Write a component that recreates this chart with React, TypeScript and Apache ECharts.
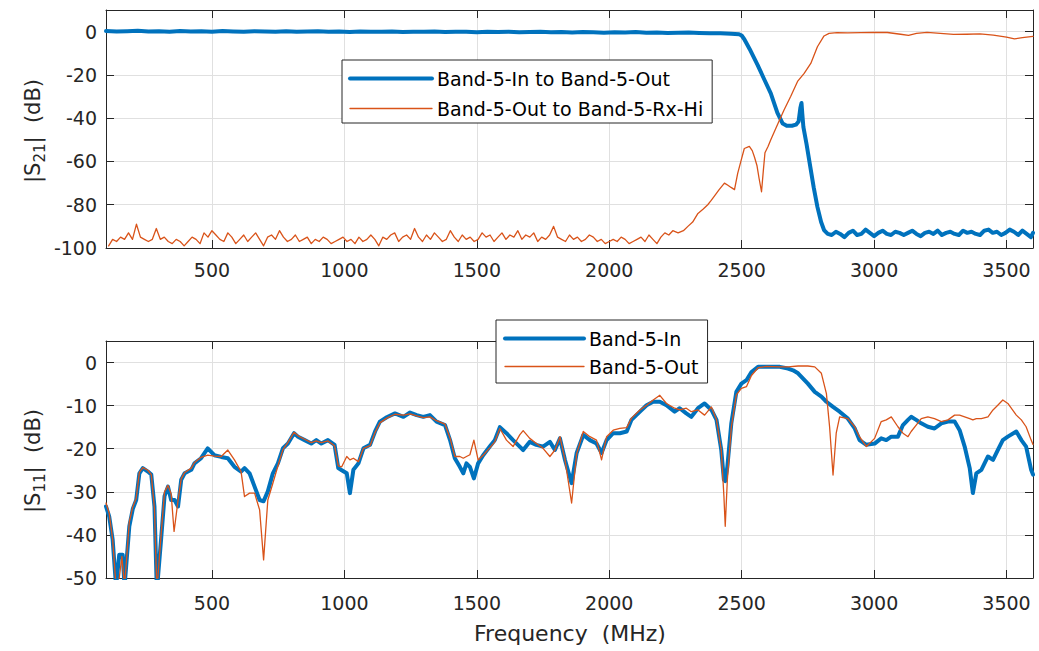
import React, { useEffect, useRef } from 'react';
import * as echarts from 'echarts';

const BLUE = '#0072BD';
const ORANGE = '#D95319';
const INK = '#262626';
const GRIDC = '#e0e0e0';
const FONT = '"DejaVu Sans", sans-serif';

// ---------------- axis ranges / labels ----------------
const FREQ_MIN = 100;
const FREQ_MAX = 3600;
const s21Range = [-100, 10];
const s11Range = [-50, 5];
const legendTop = ['Band-5-In to Band-5-Out', 'Band-5-Out to Band-5-Rx-Hi'];
const legendBottom = ['Band-5-In', 'Band-5-Out'];
const xTitle = 'Frequency  (MHz)';

// ---------------- |S21| Band-5-In to Band-5-Out (blue) ----------------
// pass-band samples: start 100 MHz, step 40 MHz
const s21InPassStart = 100;
const s21InPassStep = 40;
const s21InPass = [
  0.3, 0.1, 0.2, 0.4, 0.1, 0.2, -0.1, 0.3, 0.1, 0.2, 0, 0.3, 0.1, -0.1, 0.2, 0.1, 0, 0.2, -0.1, 0.1,
  0.2, 0, 0.1, -0.2, 0.1, 0, -0.1, 0.1, -0.2, 0, -0.1, 0.1, -0.2, -0.1, 0, -0.3, -0.1, -0.2, 0, -0.3,
  -0.2, -0.1, -0.3, -0.2, -0.4, -0.2, -0.3, -0.5, -0.3, -0.4, -0.2, -0.5, -0.4, -0.6, -0.5, -0.4, -0.6, -0.7, -0.8, -1.0,
];
const s21InEdge: [number, number][] = [
  [2490, -1.2], [2500, -1.8], [2510, -3.5], [2530, -8], [2560, -15.4], [2585, -22], [2610, -28.5],
  [2635, -37.5], [2655, -42.5], [2670, -43.5], [2690, -43.5], [2705, -43], [2715, -41.5], [2722, -35],
  [2726, -33], [2729, -38], [2733, -44], [2745, -52], [2759, -62.4], [2772, -72], [2786, -81],
  [2800, -88], [2811, -91.7], [2825, -93.5],
];
// stop-band samples: start 2840 MHz, step 16 MHz
const s21InStopStart = 2840;
const s21InStopStep = 16;
const s21InStop = [
  -94, -92.5, -93.5, -95, -93, -92, -94, -93.5, -91.5, -93, -94.5, -93, -92, -93.5, -94, -92.5,
  -93, -94, -93, -92, -93.5, -94.5, -93, -92.5, -93.5, -92, -94, -93, -92.5, -93.5, -94, -92,
  -93, -92.5, -93.5, -94, -92, -91.5, -93, -92.5, -94, -93, -91.5, -92.5, -94, -92, -93.5, -95,
];
const s21InEnd: [number, number] = [3600, -93];

// ---------------- |S21| Band-5-Out to Band-5-Rx-Hi (orange) ----------------
// noise floor: start 110 MHz, step 15 MHz
const s21OutFloorStart = 110;
const s21OutFloorStep = 15;
const s21OutFloor = [
  -99, -96, -97, -95, -96, -93, -96, -89, -95, -96, -97, -96, -91, -96, -95, -97, -98, -96, -97, -99, -97, -95, -96, -98, -93, -95, -92,
  -94, -96, -97, -93, -95, -98, -96, -94, -97, -95, -93, -96, -99, -95, -94, -96, -92, -95, -97, -96, -94, -97, -96, -95, -98, -96, -97, -95, -96, -98, -97, -96, -95,
  -97, -96, -98, -95, -97, -96, -94, -96, -99, -95, -96, -94, -93, -97, -95, -94, -96, -91, -95, -97, -94, -96, -93, -95, -97, -96, -92, -95, -97, -94, -96, -95, -97,
  -96, -93, -95, -94, -97, -95, -93, -96, -94, -95, -92, -96, -94, -95, -93, -97, -95, -96, -94, -90, -95, -96, -97, -94, -96, -95, -97, -96, -94, -95, -97, -96, -98,
  -97, -96, -97, -95, -96, -98, -97, -96, -95, -97, -94, -96, -98, -95, -93, -94, -92,
];
const s21OutRise: [number, number][] = [
  [2260, -93], [2280, -92], [2297, -90], [2315, -88], [2335, -84], [2355, -82], [2372, -80], [2385, -78],
  [2397, -76], [2415, -73], [2435, -70], [2448, -71], [2460, -72], [2473, -73], [2485, -65.5], [2497, -60],
  [2510, -54], [2529, -53], [2540, -55], [2548, -57.8], [2558, -62], [2566, -68], [2575, -74], [2582, -64],
  [2588, -56], [2600, -53], [2610, -50], [2635, -43], [2660, -36.2], [2685, -30], [2711, -23], [2736, -19.3],
  [2761, -14.7], [2786, -7], [2811, -2], [2830, -0.8], [2860, -0.5], [2900, -0.6], [2950, -0.5], [3000, -0.3],
  [3050, -0.4], [3100, -1.2], [3130, -1.7], [3160, -0.8], [3200, -0.3], [3250, -0.8], [3300, -1.3], [3350, -1.2],
  [3400, -1.0], [3450, -1.6], [3500, -2.5], [3530, -3.3], [3560, -2.8], [3600, -2.2],
];

// ---------------- |S11| Band-5-In (blue) ----------------
const s11In: [number, number][] = [
  [100, -33.4], [112, -35.7], [125, -41], [138, -52], [150, -44.6], [163, -44.6], [170, -52], [188, -38],
  [201, -34], [214, -31.9], [226, -25.7], [239, -24.5], [258, -25.3], [271, -26], [283, -33.4], [292, -53],
  [308, -41], [321, -31], [334, -28.8], [346, -31.9], [359, -31.9], [372, -33.4], [384, -27.2], [397, -25.7],
  [422, -24.9], [434, -23.4], [459, -22.2], [484, -19.9], [509, -21.5], [535, -21.9], [560, -22.2], [585, -24.2],
  [610, -25.3], [623, -24.5], [642, -25.7], [661, -28.8], [680, -31.9], [695, -32.2], [711, -29.9], [730, -25.7],
  [749, -23.4], [768, -19.9], [787, -18.8], [810, -16.4], [825, -17.2], [850, -18], [875, -18.8], [894, -18],
  [913, -18.8], [938, -18], [963, -19.1], [977, -24.5], [990, -25], [1009, -25.7], [1021, -30.3], [1034, -24.9],
  [1053, -23.4], [1072, -19.9], [1097, -19.1], [1116, -16], [1134, -13.7], [1160, -12.7], [1191, -11.8], [1223, -12.6],
  [1248, -11.6], [1273, -12.2], [1298, -12.6], [1323, -12.2], [1348, -13.7], [1380, -14.5], [1399, -18], [1417, -22.2],
  [1436, -24.2], [1449, -25.7], [1461, -23.4], [1474, -24.2], [1489, -26.9], [1505, -23.4], [1524, -21.5], [1549, -19.5],
  [1568, -18], [1587, -15], [1612, -16.4], [1637, -18], [1662, -19.5], [1675, -20.3], [1700, -18.4], [1725, -19.1],
  [1750, -19.5], [1776, -18.4], [1795, -20.3], [1814, -17.6], [1833, -22.6], [1858, -28], [1877, -21], [1902, -16.8],
  [1927, -18], [1952, -18.8], [1971, -21], [1990, -18], [2015, -16.4], [2040, -16.4], [2066, -16], [2084, -13.3],
  [2116, -11.4], [2141, -9.9], [2166, -9.1], [2191, -9.1], [2216, -9.9], [2247, -11.4], [2266, -10.6], [2291, -11.8],
  [2310, -12.6], [2335, -10.6], [2360, -9.5], [2386, -11], [2405, -13.3], [2423, -20.3], [2433, -27.2], [2438, -27.5],
  [2446, -24.2], [2461, -14.1], [2480, -6.8], [2499, -4.9], [2518, -4.1], [2537, -2.2], [2562, -1], [2593, -1],
  [2644, -1], [2675, -1.4], [2694, -1.8], [2713, -2.5], [2750, -4.9], [2776, -6.8], [2801, -7.9], [2820, -9.1],
  [2845, -10.3], [2870, -11.4], [2901, -13], [2927, -15.3], [2945, -18], [2971, -19.1], [3002, -18.8], [3027, -17.6],
  [3046, -18], [3065, -17.2], [3090, -17.2], [3109, -14.5], [3128, -13.3], [3140, -12.6], [3159, -13.3], [3178, -14.1],
  [3203, -14.9], [3228, -15.3], [3254, -14.1], [3279, -13.7], [3304, -13.7], [3323, -15.7], [3342, -19.5], [3361, -24.5],
  [3373, -30.3], [3386, -25.7], [3405, -24.9], [3430, -21.8], [3449, -22.6], [3467, -20.3], [3486, -18], [3505, -17.2],
  [3537, -16], [3556, -18], [3574, -19.5], [3593, -24.9], [3600, -26],
];

// ---------------- |S11| Band-5-Out (orange) ----------------
const s11Out: [number, number][] = [
  [100, -32.6], [112, -35], [125, -41], [138, -52], [150, -50], [160, -45], [170, -52], [188, -37],
  [201, -33.5], [214, -31.5], [226, -25.5], [239, -24.4], [258, -25], [271, -26], [283, -34], [292, -53],
  [308, -40], [321, -30], [334, -28.5], [346, -30.5], [357, -39.2], [372, -32], [384, -27], [397, -25.5],
  [422, -24.5], [434, -23.2], [459, -22], [484, -21.5], [509, -21.7], [535, -21.8], [560, -20.3], [585, -22.6],
  [610, -25.3], [623, -31.1], [642, -30.3], [661, -30.3], [680, -34.2], [695, -45.8], [711, -31.9], [730, -28],
  [749, -24], [768, -20.2], [787, -18.5], [810, -16.2], [825, -17], [850, -17.8], [875, -18.6], [894, -18.2],
  [913, -18.6], [938, -18.2], [963, -19.3], [977, -24], [990, -24.2], [1009, -21.8], [1021, -22.6], [1034, -22.2],
  [1053, -23], [1072, -19.9], [1097, -19.3], [1116, -16.2], [1134, -14], [1160, -12.9], [1191, -12], [1223, -12.2],
  [1248, -11.9], [1273, -12.4], [1298, -12.8], [1323, -12.6], [1348, -13.5], [1380, -14.3], [1399, -17.5], [1417, -21.8],
  [1436, -21.8], [1449, -22.2], [1461, -21.8], [1474, -21.4], [1489, -18], [1505, -22.6], [1524, -21.5], [1549, -19.8],
  [1568, -18.4], [1587, -15.3], [1612, -18], [1637, -19.5], [1662, -16.8], [1675, -15.8], [1700, -17.6], [1725, -18.8],
  [1750, -19.9], [1776, -21.8], [1795, -20.3], [1814, -17.2], [1833, -22.6], [1858, -32.6], [1877, -21.2], [1902, -16],
  [1927, -17.2], [1952, -18], [1971, -22.6], [1990, -17.2], [2015, -15.7], [2040, -15.3], [2066, -15.1], [2084, -12.9],
  [2116, -11], [2141, -9.9], [2166, -8.7], [2191, -7.6], [2216, -9.5], [2247, -10.6], [2266, -11], [2291, -10.6],
  [2310, -11.4], [2335, -11], [2360, -12.2], [2386, -10.3], [2405, -13.3], [2423, -20.3], [2433, -31], [2438, -38],
  [2446, -27.2], [2461, -15], [2480, -7.5], [2499, -6], [2518, -5.6], [2537, -3], [2562, -1.2], [2593, -0.9],
  [2644, -1], [2675, -1], [2713, -0.8], [2750, -0.8], [2776, -1], [2801, -2.5], [2820, -7.2], [2832, -14.9],
  [2845, -26.1], [2857, -16.4], [2870, -12.6], [2901, -13], [2927, -14.9], [2945, -17.2], [2971, -19.5], [3002, -17.6],
  [3027, -13.7], [3046, -13.3], [3065, -12.6], [3090, -14.9], [3109, -16.4], [3128, -17.2], [3140, -16], [3159, -14.5],
  [3178, -13], [3203, -12.6], [3228, -13], [3254, -13.7], [3279, -13.3], [3304, -12.2], [3323, -12.2], [3342, -12.6],
  [3361, -13], [3373, -13.3], [3386, -13], [3405, -13], [3430, -12.6], [3449, -11], [3467, -9.9], [3486, -8.7],
  [3505, -9.5], [3537, -12.2], [3556, -13.3], [3574, -14.9], [3593, -18], [3600, -19],
];

// ---------------- helpers ----------------
function sampled(start: number, step: number, vals: number[]): [number, number][] {
  return vals.map((v, i) => [start + i * step, v]);
}

function measure(text: string, size: number): number {
  const ctx = document.createElement('canvas').getContext('2d');
  if (!ctx) return text.length * size * 0.6;
  ctx.font = `${size}px "DejaVu Sans"`;
  return ctx.measureText(text).width;
}

function yTitle(cx: number, cy: number, sub: string) {
  const F = 21;
  const FS = 15;
  const parts: [string, number, number][] = [
    ['|S', F, 0],
    [sub, FS, 7],
    ['|  (dB)', F, 0],
  ];
  const widths = parts.map((p) => measure(p[0], p[1]));
  const total = widths.reduce((a, b) => a + b, 0);
  let cur = -total / 2;
  const children = parts.map((p, i) => {
    const el = {
      type: 'text',
      x: cur,
      y: p[2],
      style: {
        text: p[0],
        fontSize: p[1],
        fontFamily: FONT,
        fill: INK,
        textAlign: 'left',
        textVerticalAlign: 'middle',
        align: 'left',
        verticalAlign: 'middle',
      },
    };
    cur += widths[i];
    return el;
  });
  return { type: 'group', x: cx, y: cy, rotation: Math.PI / 2, children };
}

function xAxes(gridIndex: number, margin: number) {
  const common = {
    type: 'value',
    gridIndex,
    min: FREQ_MIN,
    max: FREQ_MAX,
    splitNumber: 7,
    axisLine: { show: true, onZero: false, lineStyle: { color: INK, width: 1 } },
    axisTick: { show: true, inside: true, length: 8, lineStyle: { color: INK, width: 1 } },
  };
  return [
    {
      ...common,
      position: 'bottom',
      axisLabel: {
        show: true,
        showMinLabel: false,
        showMaxLabel: false,
        margin,
        fontSize: 19,
        fontFamily: FONT,
        color: INK,
        formatter: (v: number) => String(v),
      },
      splitLine: { show: true, lineStyle: { color: GRIDC, width: 1 } },
    },
    {
      ...common,
      position: 'top',
      axisLabel: { show: false },
      splitLine: { show: false },
    },
  ];
}

function yAxes(gridIndex: number, range: number[], interval: number) {
  const common = {
    type: 'value',
    gridIndex,
    min: range[0],
    max: range[1],
    interval,
    axisLine: { show: true, onZero: false, lineStyle: { color: INK, width: 1 } },
    axisTick: { show: true, inside: true, length: 8, lineStyle: { color: INK, width: 1 } },
  };
  return [
    {
      ...common,
      position: 'left',
      axisLabel: {
        show: true,
        showMaxLabel: false,
        margin: 9,
        fontSize: 19,
        fontFamily: FONT,
        color: INK,
        formatter: (v: number) => String(v),
      },
      splitLine: { show: true, lineStyle: { color: GRIDC, width: 1 } },
    },
    {
      ...common,
      position: 'right',
      axisLabel: { show: false },
      splitLine: { show: false },
    },
  ];
}

function lineSeries(name: string, data: [number, number][], color: string, width: number, xi: number, yi: number) {
  return {
    type: 'line',
    name,
    data,
    xAxisIndex: xi,
    yAxisIndex: yi,
    showSymbol: false,
    symbol: 'none',
    clip: true,
    silent: true,
    color,
    lineStyle: { color, width, cap: 'round', join: 'round' },
  };
}

function legend(
  left: number,
  top: number,
  names: string[],
  widths: number[],
  itemWidth: number,
  padding: number[],
  itemGap: number,
) {
  return {
    show: true,
    orient: 'vertical',
    left,
    top,
    data: names.map((name, i) => ({ name, lineStyle: { width: widths[i] }, itemStyle: { opacity: 0 } })),
    itemWidth,
    itemHeight: 14,
    itemGap,
    padding,
    selectedMode: false,
    itemStyle: { opacity: 0 },
    backgroundColor: '#ffffff',
    borderColor: INK,
    borderWidth: 1,
    borderRadius: 0,
    textStyle: { fontSize: 19, fontFamily: FONT, color: '#000000' },
  };
}

export default function App() {
  const ref = useRef<HTMLDivElement>(null);

  useEffect(() => {
    if (!ref.current) return;
    const chart = echarts.init(ref.current, undefined, { renderer: 'svg' });

    const blueTop = [
      ...sampled(s21InPassStart, s21InPassStep, s21InPass),
      ...s21InEdge,
      ...sampled(s21InStopStart, s21InStopStep, s21InStop),
      s21InEnd,
    ];
    const orangeTop = [...sampled(s21OutFloorStart, s21OutFloorStep, s21OutFloor), ...s21OutRise];

    const option = {
      animation: false,
      backgroundColor: '#ffffff',
      textStyle: { fontFamily: FONT },
      grid: [
        { left: 106, top: 10, width: 927, height: 238, containLabel: false, outerBoundsMode: 'none' },
        { left: 106, top: 341, width: 927, height: 237, containLabel: false, outerBoundsMode: 'none' },
      ],
      xAxis: [...xAxes(0, 12), ...xAxes(1, 15)],
      yAxis: [...yAxes(0, s21Range, 20), ...yAxes(1, s11Range, 10)],
      legend: [
        legend(342, 60, legendTop, [4, 1.3], 82, [9, 9, 5, 6], 11),
        legend(496, 320, legendBottom, [4, 1.3], 79, [9, 9, 7, 7], 9),
      ],
      series: [
        lineSeries(legendTop[0], blueTop, BLUE, 4, 0, 0),
        lineSeries(legendTop[1], orangeTop, ORANGE, 1.3, 0, 0),
        lineSeries(legendBottom[0], s11In, BLUE, 4, 2, 2),
        lineSeries(legendBottom[1], s11Out, ORANGE, 1.3, 2, 2),
      ],
      graphic: [
        yTitle(33, 131, '21'),
        yTitle(33, 461, '11'),
        {
          type: 'text',
          x: 570,
          y: 633,
          style: {
            text: xTitle,
            fontSize: 22,
            fontFamily: FONT,
            fill: INK,
            textAlign: 'center',
            textVerticalAlign: 'middle',
            align: 'center',
            verticalAlign: 'middle',
          },
        },
      ],
    };

    chart.setOption(option as any);
    return () => chart.dispose();
  }, []);

  return (
    <div
      ref={ref}
      style={{ position: 'absolute', left: 0, top: 0, width: 1039, height: 651, background: '#fff' }}
    />
  );
}
